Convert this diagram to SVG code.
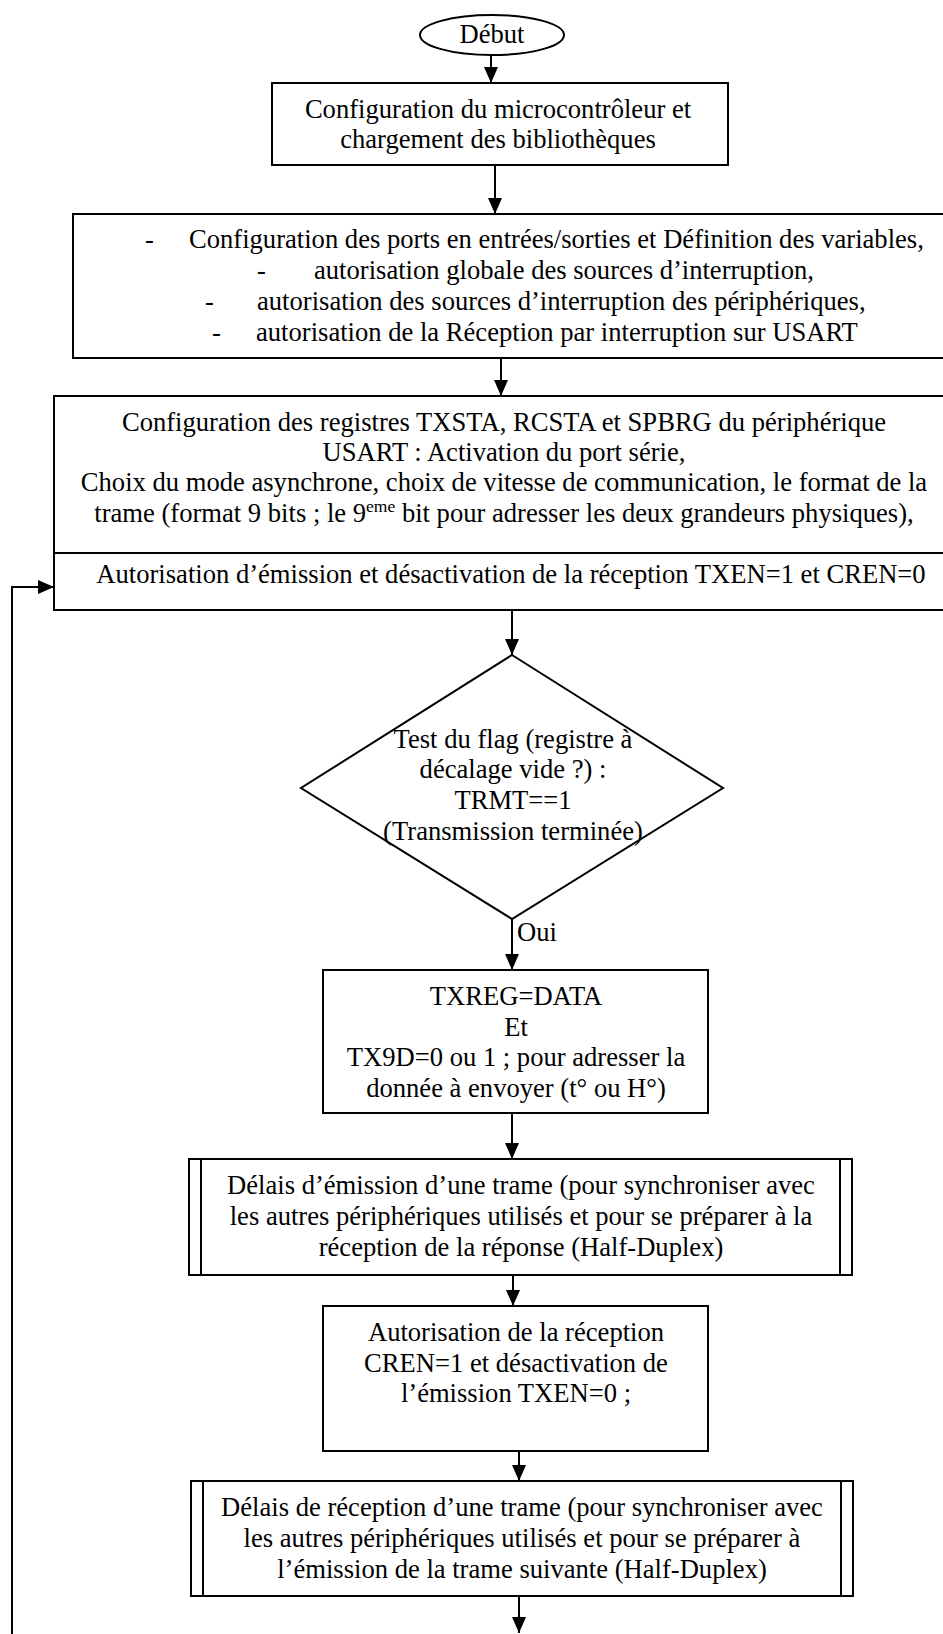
<svg xmlns="http://www.w3.org/2000/svg" width="943" height="1634" viewBox="0 0 943 1634">
<defs>
<style>
text{font-family:"Liberation Serif","Times New Roman",serif;font-size:26.6px;fill:#000}
.c{text-anchor:middle}
.shape{fill:#fff;stroke:#000;stroke-width:2}
.ln{fill:none;stroke:#000;stroke-width:2}
.conn{fill:none;stroke:#000;stroke-width:2;marker-end:url(#ah)}
</style>
<marker id="ah" markerUnits="userSpaceOnUse" markerWidth="16" markerHeight="14" refX="16" refY="7" orient="auto">
<path d="M0,0 L16,7 L0,14 z" fill="#000"/>
</marker>
</defs>
<rect width="943" height="1634" fill="#fff"/>

<g id="connectors">
<line class="conn" x1="491" y1="55" x2="491" y2="83"/>
<line class="conn" x1="495" y1="165" x2="495" y2="214"/>
<line class="conn" x1="501" y1="358" x2="501" y2="396"/>
<line class="conn" x1="512" y1="610" x2="512" y2="655"/>
<line class="conn" x1="512" y1="919" x2="512" y2="970"/>
<line class="conn" x1="512" y1="1113" x2="512" y2="1159"/>
<line class="conn" x1="513" y1="1275" x2="513" y2="1306"/>
<line class="conn" x1="519" y1="1451" x2="519" y2="1481"/>
<line class="conn" x1="519" y1="1596" x2="519" y2="1633"/>
<polyline class="conn" points="12,1634 12,587 54,587"/>
<text x="517" y="941">Oui</text>
</g>

<g id="debut">
<ellipse class="shape" cx="492" cy="35" rx="72" ry="20"/>
<text class="c" x="492" y="43">Début</text>
</g>

<g id="config-micro">
<rect class="shape" x="272" y="83" width="456" height="82"/>
<text class="c" x="498" y="118">Configuration du microcontrôleur et</text>
<text class="c" x="498" y="148">chargement des bibliothèques</text>
</g>

<g id="config-ports">
<rect class="shape" x="73" y="214" width="890" height="144"/>
<text x="145" y="248">-</text>
<text x="189" y="248">Configuration des ports en entrées/sorties et Définition des variables,</text>
<text x="257" y="279">-</text>
<text x="314" y="279">autorisation globale des sources d’interruption,</text>
<text x="205" y="310">-</text>
<text x="257" y="310">autorisation des sources d’interruption des périphériques,</text>
<text x="212" y="341">-</text>
<text x="256" y="341">autorisation de la Réception par interruption sur USART</text>
</g>

<g id="config-usart">
<rect class="shape" x="54" y="396" width="910" height="214"/>
<line class="ln" x1="54" y1="553" x2="964" y2="553"/>
<text class="c" x="504" y="431">Configuration des registres TXSTA, RCSTA et SPBRG du périphérique</text>
<text class="c" x="504" y="461">USART : Activation du port série,</text>
<text class="c" x="504" y="491">Choix du mode asynchrone, choix de vitesse de communication, le format de la</text>
<text class="c" x="504" y="522">trame (format 9 bits ; le 9<tspan font-size="17.5px" dy="-10">eme</tspan><tspan dy="10"> bit pour adresser les deux grandeurs physiques),</tspan></text>
<text class="c" x="511" y="583">Autorisation d’émission et désactivation de la réception TXEN=1 et CREN=0</text>
</g>

<g id="test-flag">
<polygon class="shape" points="512,655 723,788 512,919 301,788"/>
<text class="c" x="513" y="748">Test du flag (registre à</text>
<text class="c" x="513" y="778">décalage vide ?) :</text>
<text class="c" x="513" y="809">TRMT==1</text>
<text class="c" x="513" y="840">(Transmission terminée)</text>
</g>

<g id="txreg">
<rect class="shape" x="323" y="970" width="385" height="143"/>
<text class="c" x="516" y="1005">TXREG=DATA</text>
<text class="c" x="516" y="1036">Et</text>
<text class="c" x="516" y="1066">TX9D=0 ou 1 ; pour adresser la</text>
<text class="c" x="516" y="1097">donnée à envoyer (t° ou H°)</text>
</g>

<g id="delai-emission">
<rect class="shape" x="189" y="1159" width="663" height="116"/>
<line class="ln" x1="201" y1="1159" x2="201" y2="1275"/>
<line class="ln" x1="840" y1="1159" x2="840" y2="1275"/>
<text class="c" x="521" y="1194">Délais d’émission d’une trame (pour synchroniser avec</text>
<text class="c" x="521" y="1225">les autres périphériques utilisés et pour  se préparer à la</text>
<text class="c" x="521" y="1256">réception de la réponse (Half-Duplex)</text>
</g>

<g id="autorisation-reception">
<rect class="shape" x="323" y="1306" width="385" height="145"/>
<text class="c" x="516" y="1341">Autorisation de la réception</text>
<text class="c" x="516" y="1372">CREN=1 et désactivation de</text>
<text class="c" x="516" y="1402">l’émission TXEN=0 ;</text>
</g>

<g id="delai-reception">
<rect class="shape" x="191" y="1481" width="662" height="115"/>
<line class="ln" x1="203" y1="1481" x2="203" y2="1596"/>
<line class="ln" x1="841" y1="1481" x2="841" y2="1596"/>
<text class="c" x="522" y="1516">Délais de réception d’une trame (pour synchroniser avec</text>
<text class="c" x="522" y="1547">les autres périphériques utilisés et pour  se préparer à</text>
<text class="c" x="522" y="1578">l’émission de la trame suivante (Half-Duplex)</text>
</g>
</svg>
